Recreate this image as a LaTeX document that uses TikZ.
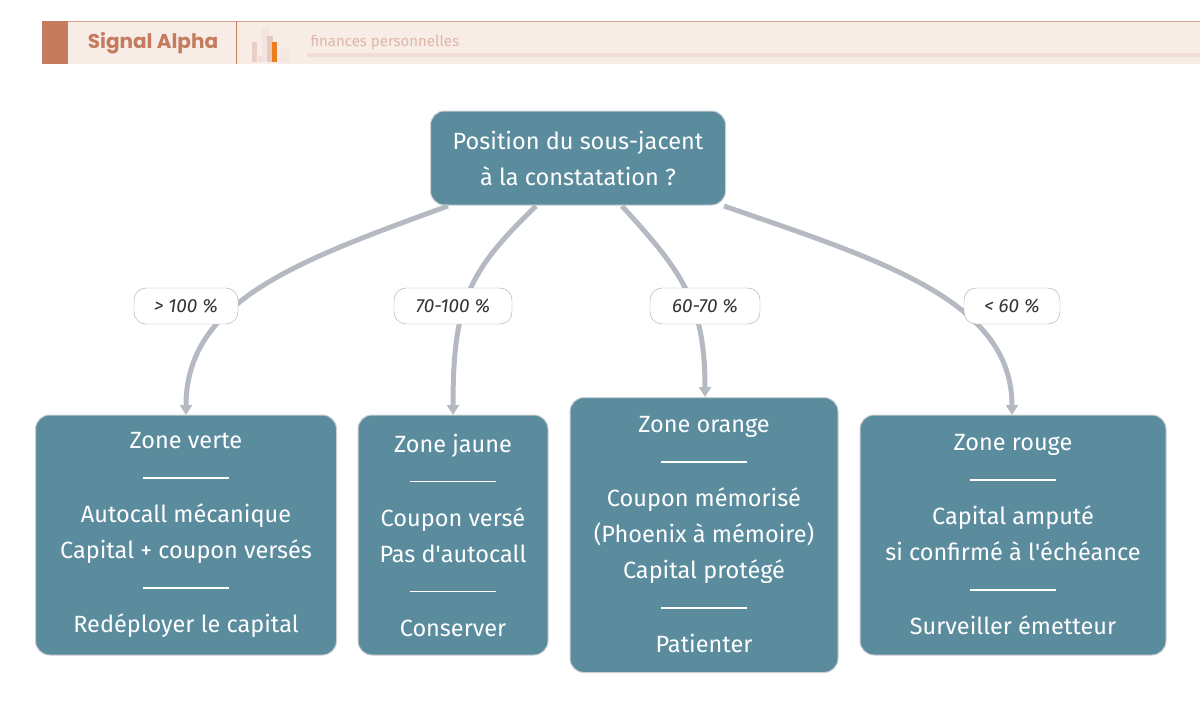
\documentclass[tikz,border=0pt]{standalone}
\usepackage{fontspec}
\setmainfont{Fira Sans}
\newfontfamily\pop{Poppins}
\usetikzlibrary{arrows.meta}
\definecolor{teal}{HTML}{5B8C9E}
\definecolor{edgec}{HTML}{B5BAC2}
\definecolor{hdr}{HTML}{F7ECE6}
\definecolor{rust}{HTML}{C47B5E}
\newcommand{\zrule}{\\[1pt]\rule[7pt]{86pt}{1.5pt}\\[1pt]}
\begin{document}
\begin{tikzpicture}[x=1pt,y=-1pt,
 box/.style={draw=edgec!70,line width=1pt,fill=teal,rounded corners=14pt,text=white,align=center,font=\fontsize{23.5}{36}\selectfont},
 lab/.style={draw=black!35,fill=white,rounded corners=12pt,minimum height=36pt,font=\fontsize{19}{20}\selectfont\itshape,text=black!80},
 edge/.style={draw=edgec,line width=5pt},
 arr/.style={-{Triangle[length=10pt,width=12pt]}}]
\useasboundingbox (0,0) rectangle (1200,721);
% header
\fill[hdr] (42,21) rectangle (1200,64);
\draw[rust!70,line width=1pt] (42,21) -- (1200,21);
\fill[rust] (42,21) rectangle (68,64);
\draw[rust,line width=1pt] (236,21) -- (236,64);
\node[font=\pop\bfseries\fontsize{20}{22}\selectfont,text=rust] (brand) at (153,43) {Signal Alpha};
\fill[rust!35] (252,42) rectangle (257,62);
\fill[rust!25] (258,56) rectangle (264,62);
\fill[rust!20] (262,28) rectangle (269,62);
\fill[rust!40] (267,36) rectangle (273,62);
\fill[orange!70!rust] (272,42) rectangle (277,62);
\fill[rust!18] (280,48) rectangle (289,62);
\node[anchor=west,font=\fontsize{15}{16}\selectfont,text=rust!55] (sub) at (307,42) {finances personnelles};
\fill[rust!25] (307,53) rectangle (1200,57);
% nodes
\node[box,minimum width=295pt,minimum height=94pt] (top) at (578,158) {Position du sous-jacent\\ à la constatation ?};
\node[box,minimum width=301pt,minimum height=240pt] (b1) at (186,535) {Zone verte\zrule Autocall mécanique\\Capital + coupon versés\zrule Redéployer le capital};
\node[box,minimum width=190pt,minimum height=240pt] (b2) at (453,535) {Zone jaune\zrule Coupon versé\\Pas d\textquotesingle autocall\zrule Conserver};
\node[box,minimum width=268pt,minimum height=275pt] (b3) at (704,535) {Zone orange\zrule Coupon mémorisé\\(Phoenix à mémoire)\\Capital protégé\zrule Patienter};
\node[box,minimum width=306pt,minimum height=240pt] (b4) at (1013,535) {Zone rouge\zrule Capital amputé\\si confirmé à l\textquotesingle échéance\zrule Surveiller émetteur};
% edges
\coordinate (s1) at (448,206); \coordinate (s2) at (536,206);
\coordinate (s3) at (622,206); \coordinate (s4) at (724,206);
\coordinate (e1) at (186,415); \coordinate (e2) at (453,415);
\coordinate (e3) at (705,397); \coordinate (e4) at (1012,415);
\draw[edge,arr] (s1) .. controls (300,260) and (186,300) .. (e1);
\draw[edge,arr] (s2) .. controls (470,270) and (453,300) .. (e2);
\draw[edge,arr] (s3) .. controls (680,270) and (705,300) .. (e3);
\draw[edge,arr] (s4) .. controls (880,260) and (1012,300) .. (e4);
\node[lab,minimum width=104pt] (l1) at (186,306) {> 100 \%};
\node[lab,minimum width=118pt] (l2) at (453,306) {70-100 \%};
\node[lab,minimum width=110pt] (l3) at (705,306) {60-70 \%};
\node[lab,minimum width=96pt] (l4) at (1012,306) {< 60 \%};
\end{tikzpicture}
\end{document}
